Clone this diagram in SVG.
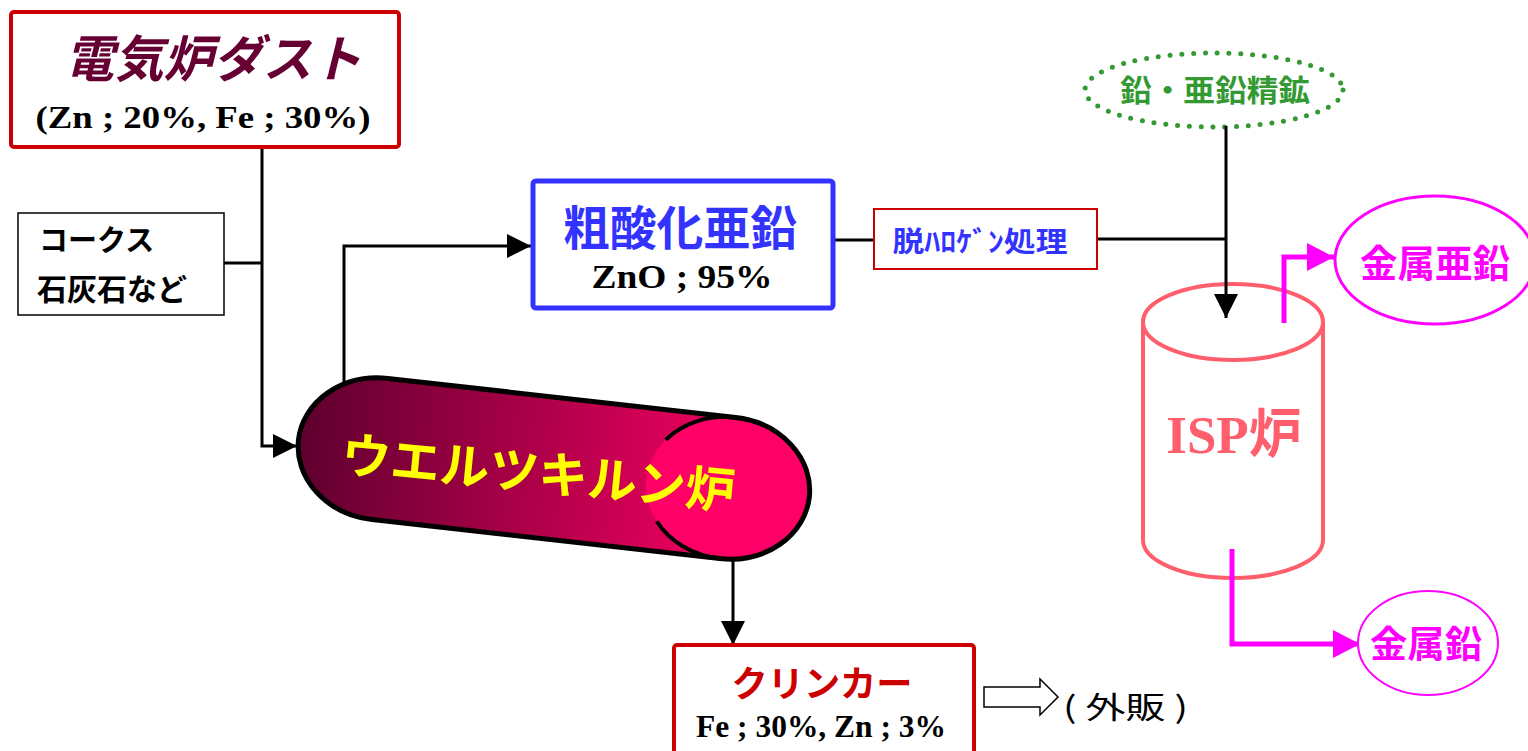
<svg xmlns="http://www.w3.org/2000/svg" width="1528" height="751" viewBox="0 0 1528 751">
<defs>
<style>
.jp{font-family:"Noto Sans CJK JP","Noto Sans",sans-serif;font-weight:bold;}
.sr{font-family:"Liberation Serif","Noto Sans CJK JP",serif;font-weight:bold;}
.con{fill:none;stroke:#000;stroke-width:3;}
.mag{fill:none;stroke:#FF00FF;stroke-width:5;}
</style>
<marker id="ab" markerUnits="userSpaceOnUse" markerWidth="26" markerHeight="24" refX="24" refY="12" orient="auto">
<path d="M0,0 L24,12 L0,24 z" fill="#000"/>
</marker>
<marker id="am" markerUnits="userSpaceOnUse" markerWidth="28" markerHeight="30" refX="27" refY="14" orient="auto">
<path d="M0,0 L27,14 L0,28 z" fill="#FF00FF"/>
</marker>
<linearGradient id="kg" x1="0" y1="0" x2="1" y2="0">
<stop offset="0" stop-color="#5E002E"/>
<stop offset="0.75" stop-color="#E0005A"/>
<stop offset="1" stop-color="#FF0066"/>
</linearGradient>
</defs>
<rect width="1528" height="751" fill="#fff"/>

<g id="connectors">
<path class="con" d="M262,148 V446 H297" marker-end="url(#ab)"/>
<path class="con" d="M224,263 H262"/>
<path class="con" d="M344,395 V246 H531" marker-end="url(#ab)"/>
<path class="con" d="M835,240 H873"/>
<path class="con" d="M1097,239 H1226"/>
<path class="con" d="M733,555 V645" marker-end="url(#ab)"/>
<g id="outarrow">
<polygon points="984,687 1040,687 1040,679 1058,697 1040,715 1040,707 984,707" fill="#fff" stroke="#000" stroke-width="1.5"/>
</g>
</g>

<g id="dust">
<rect x="11" y="12" width="388" height="135" rx="3" fill="#fff" stroke="#CC0000" stroke-width="4"/>
<text class="jp" x="213" y="77" font-size="50" font-style="italic" fill="#660033" text-anchor="middle" textLength="297" lengthAdjust="spacingAndGlyphs">電気炉ダスト</text>
<text class="sr" x="203" y="128" font-size="31" fill="#000" text-anchor="middle" textLength="335" lengthAdjust="spacingAndGlyphs">(Zn ; 20%, Fe ; 30%)</text>
</g>

<g id="coke">
<rect x="18" y="213" width="206" height="102" fill="#fff" stroke="#000" stroke-width="1.5"/>
<text class="jp" x="39" y="251" font-size="29" fill="#000">コークス</text>
<text class="jp" x="37" y="300" font-size="30" fill="#000">石灰石など</text>
</g>

<g id="kiln" transform="translate(380,449) rotate(6.4)">
<rect x="-82" y="-71" width="514" height="142" rx="82" ry="71" fill="url(#kg)"/>
<ellipse cx="350" cy="0" rx="82" ry="71" fill="#FF0066"/>
<path d="M350,-71 A82,71 0 0 0 283,-41 M283,41 A82,71 0 0 0 350,71" fill="none" stroke="#000" stroke-width="4"/>
<rect x="-82" y="-71" width="514" height="142" rx="82" ry="71" fill="none" stroke="#000" stroke-width="5"/>
<text class="jp" x="160" y="24" font-size="49" fill="#FFFF00" text-anchor="middle" textLength="395" lengthAdjust="spacingAndGlyphs" transform="rotate(-1 160 10)">ウエルツキルン炉</text>
</g>

<g id="zno">
<rect x="533" y="181" width="300" height="127" rx="3" fill="#fff" stroke="#3333FF" stroke-width="5"/>
<text class="jp" x="680" y="245" font-size="47" fill="#3333FF" text-anchor="middle" textLength="234" lengthAdjust="spacingAndGlyphs">粗酸化亜鉛</text>
<text class="sr" x="682" y="288" font-size="34" fill="#000" text-anchor="middle" textLength="181" lengthAdjust="spacingAndGlyphs">ZnO ; 95%</text>
</g>

<g id="dehalogen">
<rect x="874" y="209" width="223" height="60" fill="#fff" stroke="#CC0000" stroke-width="2"/>
<text class="jp" x="980" y="252" font-size="28" fill="#3333FF" text-anchor="middle" textLength="175" lengthAdjust="spacingAndGlyphs">脱ﾊﾛｹﾞﾝ処理</text>
</g>

<g id="ore">
<ellipse cx="1214" cy="90" rx="129" ry="37" fill="#fff" stroke="#339933" stroke-width="5" stroke-linecap="round" stroke-dasharray="0 11.8"/>
<text class="jp" x="1215" y="101" font-size="30" fill="#339933" text-anchor="middle" textLength="190" lengthAdjust="spacingAndGlyphs">鉛・亜鉛精鉱</text>
</g>

<g id="isp">
<path d="M1143,322 V540 A90,38 0 0 0 1323,540 V322" fill="#fff" stroke="#FF5E6C" stroke-width="4"/>
<ellipse cx="1233" cy="322" rx="90" ry="38" fill="#fff" stroke="#FF5E6C" stroke-width="4"/>
<text class="sr" x="1234" y="453" font-size="53" fill="#FF5E6C" text-anchor="middle">ISP炉</text>
</g>

<g id="connectors-top">
<path class="con" d="M1226,126 V318" marker-end="url(#ab)"/>
<path class="mag" d="M1284,323 V257 H1334" stroke-linejoin="miter" marker-end="url(#am)"/>
<path class="mag" d="M1232,549 V644 H1360" stroke-width="4" marker-end="url(#am)"/>
</g>

<g id="zinc">
<ellipse cx="1435" cy="260" rx="100" ry="64" fill="#fff" stroke="#FF00FF" stroke-width="3"/>
<text class="jp" x="1435" y="277" font-size="38" fill="#FF00FF" text-anchor="middle" textLength="150" lengthAdjust="spacingAndGlyphs">金属亜鉛</text>
</g>

<g id="lead">
<ellipse cx="1428" cy="643" rx="70" ry="52" fill="#fff" stroke="#FF00FF" stroke-width="2"/>
<text class="jp" x="1426" y="658" font-size="37" fill="#FF00FF" text-anchor="middle" textLength="112" lengthAdjust="spacingAndGlyphs">金属鉛</text>
</g>

<g id="clinker">
<rect x="674" y="645" width="300" height="115" rx="3" fill="#fff" stroke="#CC0000" stroke-width="4"/>
<text class="jp" x="822" y="697" font-size="36" fill="#CC0000" text-anchor="middle" textLength="181" lengthAdjust="spacingAndGlyphs">クリンカー</text>
<text class="sr" x="821" y="737" font-size="31" fill="#000" text-anchor="middle" textLength="250" lengthAdjust="spacingAndGlyphs">Fe ; 30%, Zn ; 3%</text>
</g>

<g id="sale">
<text x="1063" y="718" font-family="Noto Sans CJK JP, sans-serif" font-size="30" fill="#000" textLength="125" lengthAdjust="spacingAndGlyphs">( 外販 )</text>
</g>
</svg>
